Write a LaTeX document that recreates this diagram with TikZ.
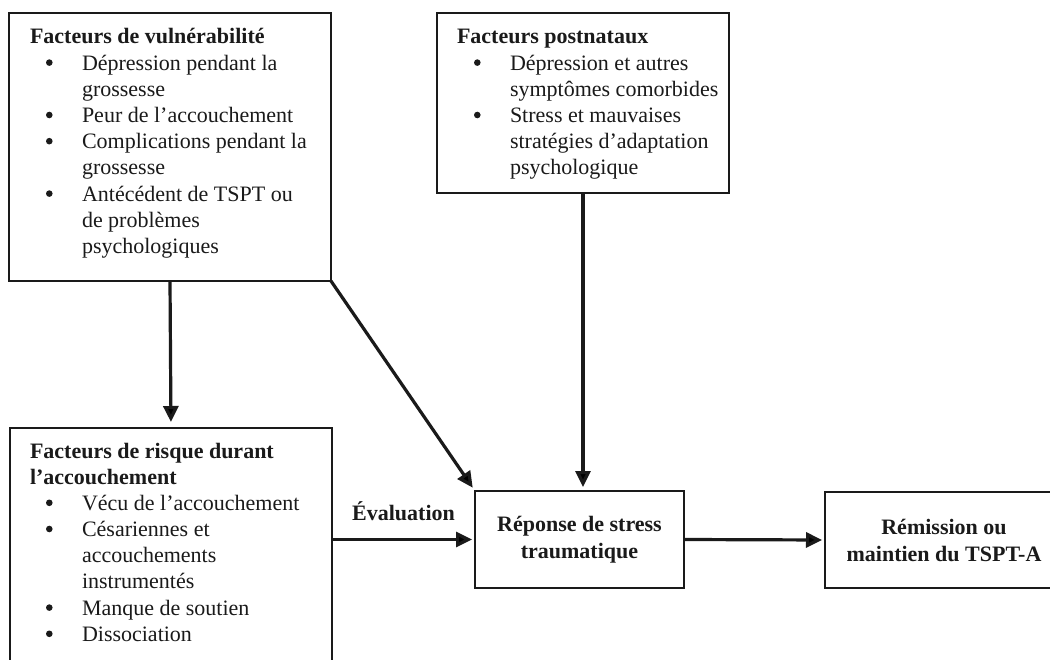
\documentclass[tikz,border=0pt]{standalone}
\usepackage{fontspec}
\setmainfont{Liberation Serif}
\usetikzlibrary{arrows.meta}
\definecolor{ink}{HTML}{1A1A1A}
\newcommand{\bul}{\hspace*{16pt}\makebox[36pt][l]{\tikz[x=1pt,y=1pt,baseline=0pt]\fill[ink] (3.4,7.6) circle[radius=3.3pt];}}
\newcommand{\cont}{\hspace*{52pt}}
\begin{document}
\begin{tikzpicture}[x=1pt,y=-1pt,
  box/.style={draw=ink, line width=2.6pt, rectangle, inner sep=0pt, outer sep=0pt},
  txt/.style={inner sep=0pt, outer sep=0pt, text=ink, font=\fontsize{22}{26.2}\selectfont},
  ctxt/.style={align=center, text=ink, font=\bfseries\fontsize{22}{27}\selectfont},
  conn/.style={draw=ink, line width=3.2pt, -{Triangle[length=16pt,width=15pt]}},
]
\useasboundingbox (0,0) rectangle (1050,660);
\clip (0,0) rectangle (1050,660);
\fill[white] (0,0) rectangle (1050,660);

% boxes
\node[box, minimum width=322pt, minimum height=268pt] (vul) at (170,147) {};
\node[box, minimum width=292pt, minimum height=180pt] (post) at (583,103) {};
\node[box, minimum width=322pt, minimum height=272pt] (risk) at (171,564) {};
\node[box, ctxt, minimum width=209pt, minimum height=97pt] (rep) at (579.5,539.5) {Réponse de stress\\traumatique};
\node[box, ctxt, minimum width=238pt, minimum height=96pt] (rem) at (944,540) {Rémission ou\\maintien du TSPT-A};

% box texts
\node[txt, anchor=base west] (vult) at (30,44) {\begin{tabular}[t]{@{}l@{}}
\textbf{Facteurs de vulnérabilité}\\
\bul Dépression pendant la\\
\cont grossesse\\
\bul Peur de l’accouchement\\
\bul Complications pendant la\\
\cont grossesse\\
\bul Antécédent de TSPT ou\\
\cont de problèmes\\
\cont psychologiques
\end{tabular}};

\node[txt, anchor=base west] (postt) at (457,44) {\begin{tabular}[t]{@{}l@{}}
\textbf{Facteurs postnataux}\\
\hspace*{1pt}\bul Dépression et autres\\
\hspace*{1pt}\cont symptômes comorbides\\
\hspace*{1pt}\bul Stress et mauvaises\\
\hspace*{1pt}\cont stratégies d’adaptation\\
\hspace*{1pt}\cont psychologique
\end{tabular}};

\node[txt, anchor=base west] (riskt) at (30,458) {\begin{tabular}[t]{@{}l@{}}
\textbf{Facteurs de risque durant}\\
\textbf{l’accouchement}\\
\bul Vécu de l’accouchement\\
\bul Césariennes et\\
\cont accouchements\\
\cont instrumentés\\
\bul Manque de soutien\\
\bul Dissociation
\end{tabular}};

% connectors
\draw[conn, shorten >=6pt] (vul.south) -- (risk.north);
\draw[conn, shorten >=4pt] (vul.south east) -- (rep.north west);
\draw[conn, shorten >=4pt] (post.south) -- (post.south |- rep.north);
\draw[conn, shorten >=3pt] (risk.east |- rep.west) -- node[midway, anchor=base, yshift=19pt, inner sep=0pt, text=ink, font=\bfseries\fontsize{22}{26}\selectfont] (eval) {Évaluation} (rep.west);
\draw[conn, shorten >=3pt] (rep.east) -- (rem.west);
\end{tikzpicture}
\end{document}
